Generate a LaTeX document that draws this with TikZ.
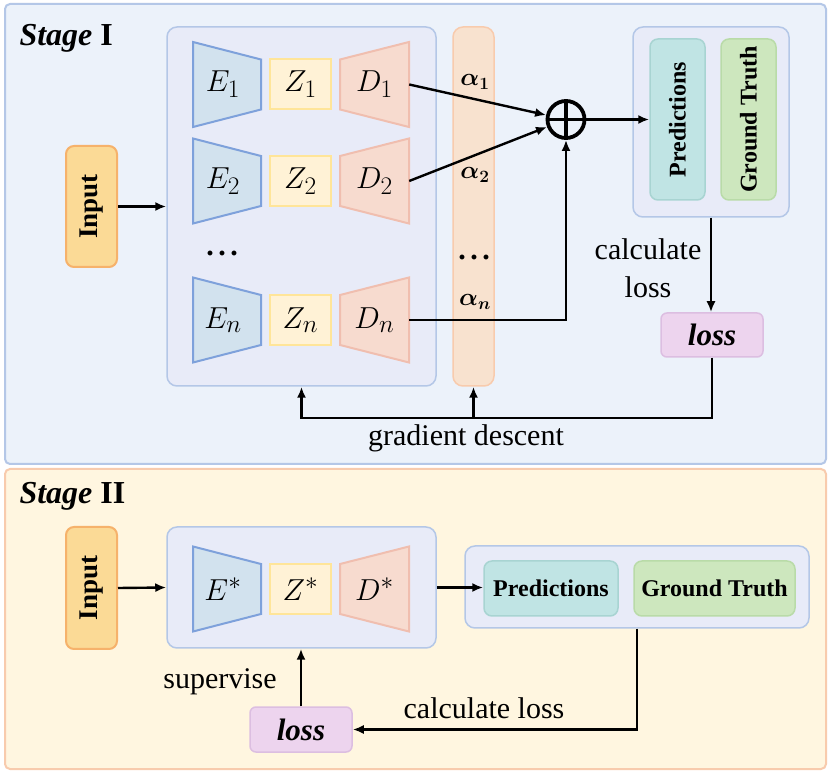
\documentclass[tikz,border=0pt]{standalone}
\usepackage{graphicx}
\usepackage{amsmath}
\usepackage{bm}
\usepackage{fontspec}
\setmainfont{Liberation Serif}
\usetikzlibrary{arrows.meta}

\definecolor{sonefill}{RGB}{236,242,250}
\definecolor{soneline}{RGB}{180,199,231}
\definecolor{stwofill}{RGB}{255,246,224}
\definecolor{stwoline}{RGB}{248,203,173}
\definecolor{grpfill}{RGB}{232,235,248}
\definecolor{grpline}{RGB}{180,199,231}
\definecolor{encfill}{RGB}{210,226,238}
\definecolor{encline}{RGB}{126,161,219}
\definecolor{latfill}{RGB}{255,242,214}
\definecolor{latline}{RGB}{255,229,153}
\definecolor{decfill}{RGB}{247,219,207}
\definecolor{decline}{RGB}{240,190,175}
\definecolor{alffill}{RGB}{248,226,207}
\definecolor{alfline}{RGB}{248,203,173}
\definecolor{inpfill}{RGB}{251,218,150}
\definecolor{inpline}{RGB}{246,178,107}
\definecolor{predfill}{RGB}{192,228,228}
\definecolor{predline}{RGB}{168,212,210}
\definecolor{gtfill}{RGB}{205,231,190}
\definecolor{gtline}{RGB}{185,219,168}
\definecolor{lossfill}{RGB}{237,212,238}
\definecolor{lossline}{RGB}{220,190,225}

\newcommand{\mathsz}{\fontsize{24.88}{27}\selectfont}
\newcommand{\labelsz}{\fontsize{30}{38}\selectfont}
\newcommand{\mlabel}[1]{\scalebox{1.22}{$#1$}}
\newcommand{\bdots}{\textbf{.\hspace{4.5pt}.\hspace{4.5pt}.}}

% encoder block: name, centre y, label
\newcommand{\encoder}[3]{%
  \filldraw[encshape] (193,#2-42.5) -- (261,#2-25) -- (261,#2+25) -- (193,#2+42.5) -- cycle;
  \node[inner sep=0pt,minimum width=68pt,minimum height=85pt,font=\mathsz] (#1) at (223,#2) {\mlabel{#3}};}
% decoder block: name, centre y, label
\newcommand{\decoder}[3]{%
  \filldraw[decshape] (340,#2-25) -- (409,#2-42.5) -- (409,#2+42.5) -- (340,#2+25) -- cycle;
  \node[inner sep=0pt,minimum width=69pt,minimum height=85pt,font=\mathsz] (#1) at (374.5,#2) {\mlabel{#3}};}

\begin{document}
\begin{tikzpicture}[x=1pt,y=-1pt,
  arr/.style={line width=2.4pt,-{Latex[length=11pt,width=9pt]}},
  stagebox/.style={rounded corners=5pt,line width=2pt},
  groupbox/.style={draw=grpline,fill=grpfill,rounded corners=10pt,line width=1.5pt,inner sep=0pt},
  encshape/.style={draw=encline,fill=encfill,line width=2pt},
  decshape/.style={draw=decline,fill=decfill,line width=2pt},
  latentbox/.style={draw=latline,fill=latfill,line width=2pt,inner sep=0pt,font=\mathsz},
  alphabox/.style={draw=alfline,fill=alffill,rounded corners=10pt,line width=1.5pt,inner sep=0pt},
  inputbox/.style={draw=inpline,fill=inpfill,rounded corners=8pt,line width=2pt,inner sep=0pt,
    minimum width=51pt,font=\bfseries\fontsize{27}{29}\selectfont},
  predbox/.style={draw=predline,fill=predfill,rounded corners=8pt,line width=1.5pt,inner sep=0pt,
    font=\bfseries\fontsize{24}{26}\selectfont},
  gtbox/.style={draw=gtline,fill=gtfill,rounded corners=8pt,line width=1.5pt,inner sep=0pt,
    font=\bfseries\fontsize{24}{26}\selectfont},
  lossbox/.style={draw=lossline,fill=lossfill,rounded corners=6pt,line width=1.5pt,inner sep=0pt,
    minimum width=102pt,font=\bfseries\itshape\fontsize{31}{33}\selectfont},
  alphalabel/.style={font=\fontsize{24}{26}\selectfont},
  dotlabel/.style={font=\fontsize{30}{32}\selectfont,inner sep=0pt},
  titletxt/.style={anchor=west,font=\fontsize{32}{34}\selectfont},
  txt/.style={font=\labelsz,align=center}]
  \fill[white] (0,0) rectangle (831,775);
  \useasboundingbox (0,0) rectangle (831,775);

  % Stage I
  \draw[stagebox,draw=soneline,fill=sonefill] (5,4) rectangle (826,464);
  \node[titletxt] (title1) at (16,38) {\textbf{\textit{Stage}} \textbf{I}};
  \node[inputbox,minimum height=121pt] (input1) at (91.5,206.5) {\rotatebox{90}{Input}};
  \node[groupbox,minimum width=269pt,minimum height=359pt] (enc) at (301.5,206.5) {};
  \encoder{e1}{84.5}{E_1}
  \encoder{e2}{181}{E_2}
  \encoder{en}{320}{E_n}
  \node[latentbox,minimum width=61pt,minimum height=50pt] (z1) at (300.5,84.5) {\mlabel{Z_1}};
  \node[latentbox,minimum width=61pt,minimum height=50pt] (z2) at (300.5,181) {\mlabel{Z_2}};
  \node[latentbox,minimum width=61pt,minimum height=50pt] (zn) at (300.5,320) {\mlabel{Z_n}};
  \decoder{d1}{84.5}{D_1}
  \decoder{d2}{181}{D_2}
  \decoder{dn}{320}{D_n}
  \node[dotlabel] (edots) at (222,253) {\bdots};

  \node[alphabox,minimum width=41pt,minimum height=359pt] (alpha) at (473.5,206.5) {};
  \node[alphalabel] (a1) at (475,82) {$\bm{\alpha_1}$};
  \node[alphalabel] (a2) at (475,175) {$\bm{\alpha_2}$};
  \node[dotlabel] (adots) at (474,257) {\bdots};
  \node[alphalabel] (an) at (475,302) {$\bm{\alpha_n}$};

  \node[circle,draw,line width=3.8pt,minimum size=37pt,inner sep=0pt] (sum) at (566,119.5) {};
  \draw[line width=3.8pt] (sum.north) -- (sum.south) (sum.west) -- (sum.east);

  \node[groupbox,minimum width=156pt,minimum height=190pt] (out1) at (711,122) {};
  \node[predbox,minimum width=55pt,minimum height=161pt] (pred1) at (677.5,119.5) {\rotatebox{90}{Predictions}};
  \node[gtbox,minimum width=55pt,minimum height=161pt] (gt1) at (748.5,119.5) {\rotatebox{90}{Ground Truth}};
  \node[lossbox,minimum height=44pt] (loss1) at (712,335) {loss};
  \node[txt] (calc1) at (648,268) {calculate\\loss};

  \draw[arr] (input1.east) -- (enc.west);
  \draw[arr] (d1.east) -- (sum);
  \draw[arr] (d2.east) -- (sum);
  \draw[arr] (dn.east) -| (sum.south);
  \draw[arr] (sum.east) -- (pred1.west);
  \draw[arr] (out1.south) -- (out1.south |- loss1.north);
  \coordinate (gd) at (301.5,418);
  \draw[arr] (loss1.south) |- (gd) -- (enc.south);
  \draw[arr] (alpha.south |- gd) -- (alpha.south);
  \node[txt] (gdlabel) at (466,438) {gradient descent};

  % Stage II
  \draw[stagebox,draw=stwoline,fill=stwofill] (5,469) rectangle (826,769);
  \node[titletxt] (title2) at (16,496) {\textbf{\textit{Stage}} \textbf{II}};
  \node[inputbox,minimum height=122pt] (input2) at (91.5,588) {\rotatebox{90}{Input}};
  \node[groupbox,minimum width=269pt,minimum height=121pt] (enc2) at (301.5,587.5) {};
  \encoder{es}{589}{E^*}
  \node[latentbox,minimum width=61pt,minimum height=50pt] (zs) at (300.5,589) {\mlabel{Z^*}};
  \decoder{ds}{589}{D^*}
  \node[groupbox,minimum width=344pt,minimum height=82pt] (out2) at (637,587) {};
  \node[predbox,minimum width=134pt,minimum height=55pt] (pred2) at (551,588.5) {Predictions};
  \node[gtbox,minimum width=161pt,minimum height=55pt] (gt2) at (714.5,588.5) {Ground Truth};
  \node[lossbox,minimum height=45pt] (loss2) at (301,729.5) {loss};
  \node[txt] (calc2) at (484,708) {calculate loss};
  \node[txt] (sup) at (220,682) {supervise};

  \draw[arr] (input2.east) -- (enc2.west);
  \draw[arr] (enc2.east) -- (enc2.east -| pred2.west);
  \draw[arr] (out2.south) |- (loss2.east);
  \draw[arr] (loss2.north) -- (loss2.north |- enc2.south);
\end{tikzpicture}
\end{document}
